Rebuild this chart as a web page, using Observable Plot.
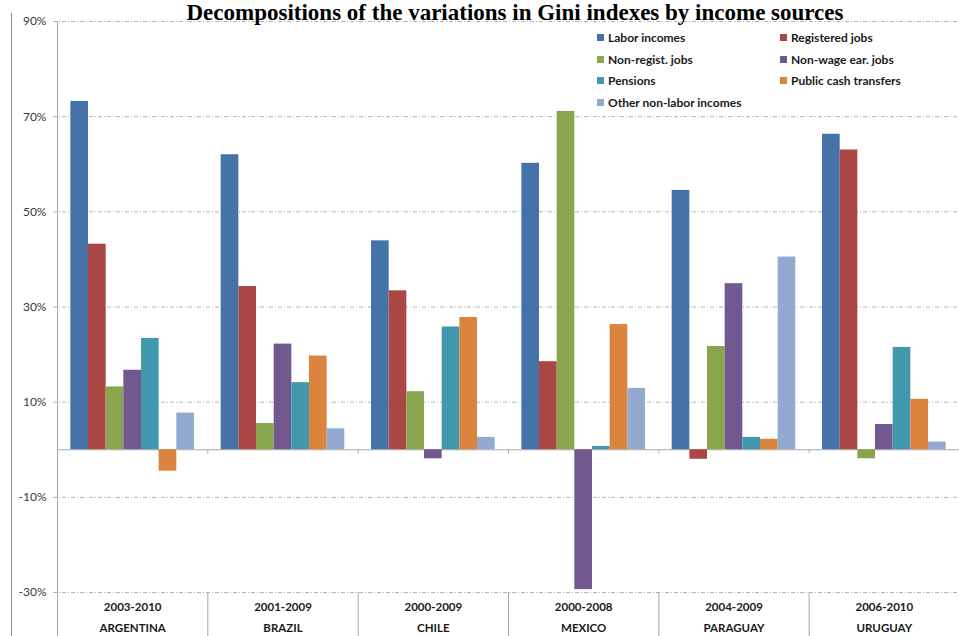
<!DOCTYPE html>
<html>
<head>
<meta charset="utf-8">
<script src="https://cdn.jsdelivr.net/npm/d3@7"></script>
<script src="https://cdn.jsdelivr.net/npm/@observablehq/plot@0.6"></script>
<style>
  html, body { margin: 0; padding: 0; background: #fff; overflow: hidden; }
  #chart { position: relative; width: 959px; height: 636px; overflow: hidden; }
  #chart svg { position: absolute; left: 0; top: 0; }
  #box { position: absolute; left: 11px; top: 13px; width: 1000px; height: 700px;
         border-left: 1px solid #8f8f8f; }
  #title { position: absolute; left: 0; width: 1030px; top: 0; text-align: center;
           font: bold 23px "Liberation Serif", "Times New Roman", serif; line-height: 26px;
           color: #000; white-space: nowrap; }
  #legend { position: absolute; left: 597px; top: 27px; display: grid;
            grid-template-columns: 183px auto; grid-auto-rows: 21.5px; background: #fff;
            font: bold 12px Lato, sans-serif; color: #1a1a1a; }
  #legend .item { display: flex; align-items: center; white-space: nowrap; }
  #legend .sw { width: 7px; height: 7px; margin-right: 4px; flex: none; }
</style>
</head>
<body>
<div id="chart">
  <div id="box"></div>
</div>
<script>
// Countries, observed periods and income sources
const countries = ["ARGENTINA", "BRAZIL", "CHILE", "MEXICO", "PARAGUAY", "URUGUAY"];
const periods = ["2003-2010", "2001-2009", "2000-2009", "2000-2008", "2004-2009", "2006-2010"];
const sources = ["Labor incomes", "Registered jobs", "Non-regist. jobs", "Non-wage ear. jobs",
                 "Pensions", "Public cash transfers", "Other non-labor incomes"];
const sourceColors = ["#4572A7", "#AA4643", "#89A54E", "#71588F", "#4198AF", "#DB843D", "#93A9CF"];

// Contribution of each source to the change in the Gini index (%), one value per country
const laborIncomes = [73.2, 62.0, 43.9, 60.2, 54.5, 66.3];
const registeredJobs = [43.2, 34.3, 33.4, 18.5, -2.0, 63.0];
const nonRegistJobs = [13.2, 5.5, 12.2, 71.1, 21.7, -1.9];
const nonWageJobs = [16.7, 22.2, -1.9, -29.4, 34.9, 5.3];
const pensions = [23.4, 14.1, 25.8, 0.7, 2.6, 21.5];
const publicCashTransfers = [-4.5, 19.7, 27.8, 26.3, 2.2, 10.6];
const otherNonLabor = [7.7, 4.4, 2.6, 12.9, 40.5, 1.6];

const yTicks = [90, 70, 50, 30, 10, -10, -30];
const yDomain = [-30, 90];

const seriesValues = [laborIncomes, registeredJobs, nonRegistJobs, nonWageJobs,
                      pensions, publicCashTransfers, otherNonLabor];

// Long table: one row per (country, source)
const rows = [];
countries.forEach((country, i) => {
  sources.forEach((source, j) => {
    rows.push({country, period: periods[i], source, i, j, value: seriesValues[j][i]});
  });
});

// Each country occupies one unit on x; bars are packed in its middle
const outerPad = 0.756;
const unit = 1 / (sources.length + 2 * outerPad);
const barX1 = d => d.i + (outerPad + d.j) * unit;
const barX2 = d => d.i + (outerPad + d.j + 1) * unit;

const W = 959, H = 636;
const mTop = 21, mBottom = 44, mLeft = 57, mRight = 0;
const below = mBottom; // category table reaches the bottom edge

const gridColor = "#b3b3b3";
const axisColor = "#a6a6a6";

const plot = Plot.plot({
  width: W,
  height: H,
  marginTop: mTop,
  marginBottom: mBottom,
  marginLeft: mLeft,
  marginRight: mRight,
  style: {fontFamily: "Lato, sans-serif", fontSize: "12px", color: "#3a3a3a", background: "transparent"},
  x: {domain: [0, countries.length], axis: null},
  y: {domain: yDomain, ticks: yTicks, tickFormat: d => d + "%", tickSize: 0, tickPadding: 11, label: null},
  color: {domain: sources, range: sourceColors},
  marks: [
    // dash-dot gridlines, with a short stub to the left of the axis
    Plot.ruleY(yTicks, {stroke: gridColor, strokeDasharray: "4,2,1,2", insetLeft: -4}),
    // zero baseline
    Plot.ruleY([0], {stroke: axisColor}),
    // bars
    Plot.rect(rows, {x1: barX1, x2: barX2, y1: 0, y2: "value", fill: "source"}),
    // y axis line, continued down through the category table
    Plot.ruleX([0], {y1: yDomain[1], y2: yDomain[0], insetBottom: -below, stroke: axisColor}),
    // separators between countries in the category table
    Plot.ruleX(d3.range(1, countries.length), {y1: yDomain[0], y2: yDomain[0], insetBottom: -below, stroke: axisColor}),
    // small tick marks on the baseline at group boundaries
    Plot.ruleX(d3.range(0, countries.length + 1), {y1: 0, y2: 0, insetBottom: -4, stroke: axisColor}),
    // category labels: period and country
    Plot.text(countries, {x: (d, i) => i + 0.5, text: (d, i) => periods[i], frameAnchor: "bottom",
      dy: 14.5, lineAnchor: "middle", fontWeight: "bold", fontSize: 11.5, fill: "#1a1a1a"}),
    Plot.text(countries, {x: (d, i) => i + 0.5, text: d => d, frameAnchor: "bottom",
      dy: 36, lineAnchor: "middle", fontWeight: "bold", fontSize: 11.5, fill: "#1a1a1a"})
  ]
});

const chart = document.getElementById("chart");
chart.appendChild(plot);

// Title across the top
const title = document.createElement("div");
title.id = "title";
title.textContent = "Decompositions of the variations in Gini indexes by income sources";
chart.appendChild(title);

// Legend, two columns in the upper right of the plot area
const legend = d3.select(chart).append("div").attr("id", "legend");
sources.forEach((s, k) => {
  const item = legend.append("div").attr("class", "item");
  item.append("span").attr("class", "sw").style("background", sourceColors[k]);
  item.append("span").text(s);
});
</script>
</body>
</html>
